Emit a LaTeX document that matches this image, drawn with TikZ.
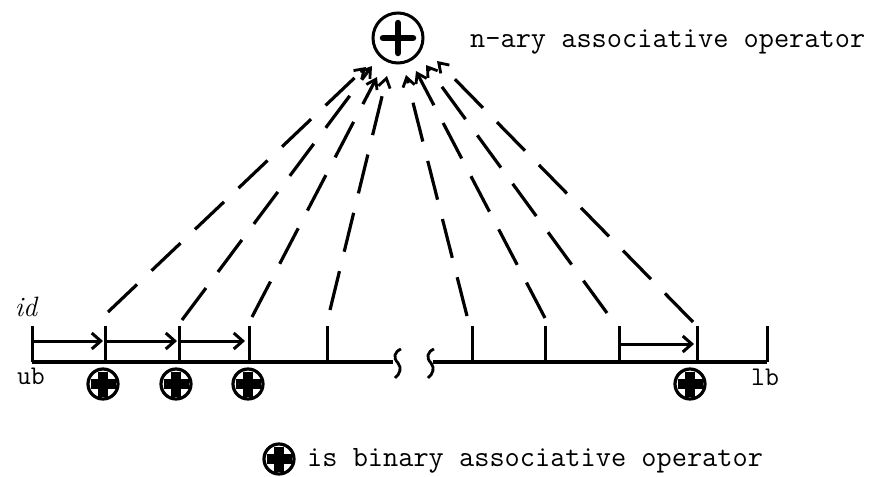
\documentclass[tikz,border=0pt]{standalone}
\usetikzlibrary{arrows.meta}
\begin{document}
\begin{tikzpicture}[x=1pt,y=-1pt,
  axisline/.style={line width=3.2pt},
  tickline/.style={line width=3pt},
  idarrow/.style={line width=3pt,-{Straight Barb[length=9pt,width=16pt,line width=3pt]}},
  dashconn/.style={line width=3.2pt,dash pattern=on 40pt off 20pt,-{Straight Barb[length=9pt,width=12pt,line width=2.8pt]}},
  lbl/.style={font=\ttfamily\fontsize{29.5}{29.5}\selectfont,inner sep=0pt,anchor=west},
  endlbl/.style={font=\ttfamily\fontsize{27}{27}\selectfont,inner sep=0pt},
  binop/.pic={
    \draw[line width=3.2pt] (0,0) circle (15);
    \fill (-12.5,-5) rectangle (12.5,5);
    \fill (-5,-12.5) rectangle (5,12.5);
  }
]
\useasboundingbox (0,0) rectangle (879,477);

% top n-ary operator
\node[draw,circle,line width=3pt,minimum size=50pt,inner sep=0pt] (nary) at (398,38) {};
\draw[line width=6.5pt,line cap=round] (nary.center) ++(-15,0) -- ++(30,0);
\draw[line width=6.5pt,line cap=round] (nary.center) ++(0,-15) -- ++(0,30);
\node[lbl] (naryl) at (470,42) {n-ary associative operator};

% axis
\coordinate (ub) at (32,362);
\coordinate (brk1) at (393,362);
\coordinate (brk2) at (433,362);
\coordinate (lb) at (767,362);
\draw[axisline] (ub) -- (brk1);
\draw[axisline] (brk2) -- (lb);
\draw[line width=2.8pt] (401,349) .. controls (394,352) and (393,358) .. (398,363) .. controls (402,368) and (400,374) .. (395,378);
\draw[line width=2.8pt] (434,349) .. controls (427,352) and (426,358) .. (431,363) .. controls (435,368) and (433,374) .. (428,378);

% ticks
\foreach \n/\x in {0/32,1/105,2/179,3/249,4/327,5/472,6/545,7/619,8/697,9/767}{
  \coordinate (b\n) at (\x,362);
  \coordinate (t\n) at (\x,326);
  \draw[tickline] (b\n) -- (t\n);
}

% id arrows
\coordinate (ar0s) at (32,341);  \coordinate (ar0e) at (103,341);
\coordinate (ar1s) at (105,341); \coordinate (ar1e) at (177,341);
\coordinate (ar2s) at (179,341); \coordinate (ar2e) at (245,341);
\coordinate (ar7s) at (619,344); \coordinate (ar7e) at (694,344);
\foreach \k in {0,1,2,7}{
  \draw[idarrow] (ar\k s) -- (ar\k e);
}

% dashed connectors to n-ary operator
\coordinate (d1) at (108,312); \coordinate (e1) at (366,67);
\coordinate (d2) at (182,320); \coordinate (e2) at (372,66);
\coordinate (d3) at (252,317); \coordinate (e3) at (377,77);
\coordinate (d4) at (330,310); \coordinate (e4) at (387,76);
\coordinate (d5) at (467,316); \coordinate (e5) at (406,75);
\coordinate (d6) at (545,318); \coordinate (e6) at (416,71);
\coordinate (d7) at (607,313); \coordinate (e7) at (426,65);
\coordinate (d8) at (693,322); \coordinate (e8) at (437,61);
\foreach \k in {1,...,8}{
  \draw[dashconn] (d\k) -- (e\k);
}

% binary operators
\pic at (103,384) {binop};
\pic at (176,384) {binop};
\pic at (248,384) {binop};
\pic at (690,384) {binop};

% labels
\node[font=\itshape\fontsize{28}{28}\selectfont,inner sep=0pt] (idl) at (26,307) {id};
\node[endlbl] (ubl) at (31,376) {ub};
\node[endlbl] (lbl1) at (765,377) {lb};

% legend
\pic at (279,459) {binop};
\node[lbl] (legend) at (307,461) {is binary associative operator};
\end{tikzpicture}
\end{document}
